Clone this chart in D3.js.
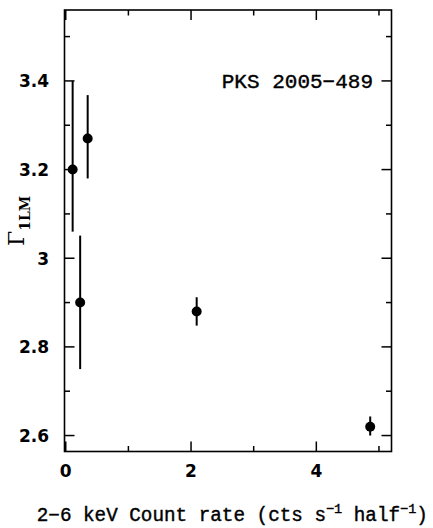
<!DOCTYPE html>
<html>
<head>
<meta charset="utf-8">
<script src="https://cdn.jsdelivr.net/npm/d3@7"></script>
<style>
  html, body { margin: 0; padding: 0; background: #fff; }
  svg { display: block; }
</style>
</head>
<body>
<script>
// ---- data ----
const countRate = [0.11, 0.35, 0.23, 2.09, 4.86];
const gamma     = [3.20, 3.27, 2.90, 2.88, 2.62];
const gammaLow  = [3.06, 3.18, 2.75, 2.848, 2.600];
const gammaHigh = [3.40, 3.368, 3.051, 2.912, 2.643];
const xMajorTicks = [0, 2, 4];
const xMinorTicks = [1, 3, 5];
const yMajorTicks = [2.6, 2.8, 3.0, 3.2, 3.4];
const yMinorTicks = [2.7, 2.9, 3.1, 3.3, 3.5];
const yTickLabels = ["2.6", "2.8", "3", "3.2", "3.4"];
const sourceName = "PKS 2005\u2212489";

(function () {
const W = 433, H = 528;
const pL = 64.5, pR = 391.5, pT = 10, pB = 451.5;

const x = d3.scaleLinear().domain([-0.02, 5.2]).range([pL, pR]);
const y = d3.scaleLinear().domain([2.564, 3.56]).range([pB, pT]);

const svg = d3.select("body").append("svg").attr("width", W).attr("height", H);

const tickFont = "'DejaVu Sans', sans-serif";
const monoFont = "'Liberation Mono', 'Courier New', monospace";

// frame
svg.append("rect")
  .attr("x", pL).attr("y", pT)
  .attr("width", pR - pL).attr("height", pB - pT)
  .attr("fill", "none").attr("stroke", "#000").attr("stroke-width", 1.6);

const majLen = 10, minLen = 5.5;
const tg = svg.append("g").attr("stroke", "#000").attr("stroke-width", 1.5);

function xTicks(vals, len) {
  vals.forEach(v => {
    tg.append("line").attr("x1", x(v)).attr("x2", x(v)).attr("y1", pB).attr("y2", pB - len);
    tg.append("line").attr("x1", x(v)).attr("x2", x(v)).attr("y1", pT).attr("y2", pT + len);
  });
}
function yTicks(vals, len) {
  vals.forEach(v => {
    tg.append("line").attr("x1", pL).attr("x2", pL + len).attr("y1", y(v)).attr("y2", y(v));
    tg.append("line").attr("x1", pR).attr("x2", pR - len).attr("y1", y(v)).attr("y2", y(v));
  });
}
xTicks(xMajorTicks, majLen); xTicks(xMinorTicks, minLen);
yTicks(yMajorTicks, majLen); yTicks(yMinorTicks, minLen);

// tick labels
svg.append("g").selectAll("text").data(xMajorTicks).join("text")
  .attr("x", d => x(d)).attr("y", 477)
  .attr("text-anchor", "middle")
  .attr("font-family", tickFont).attr("font-weight", "bold").attr("font-size", 17)
  .text(d => d);

svg.append("g").selectAll("text").data(yMajorTicks).join("text")
  .attr("x", 49).attr("y", d => y(d) + 6.5)
  .attr("text-anchor", "end")
  .attr("font-family", tickFont).attr("font-weight", "bold").attr("font-size", 17)
  .text((d, i) => yTickLabels[i]);

// error bars
const idx = d3.range(countRate.length);
svg.append("g").selectAll("line").data(idx).join("line")
  .attr("x1", i => x(countRate[i])).attr("x2", i => x(countRate[i]))
  .attr("y1", i => y(gammaLow[i])).attr("y2", i => y(gammaHigh[i]))
  .attr("stroke", "#000").attr("stroke-width", 2);

// points
svg.append("g").selectAll("circle").data(idx).join("circle")
  .attr("cx", i => x(countRate[i])).attr("cy", i => y(gamma[i]))
  .attr("r", 5).attr("fill", "#000");

// source label
svg.append("text")
  .attr("x", 373).attr("y", 88)
  .attr("text-anchor", "end")
  .attr("font-family", monoFont).attr("font-size", 21)
  .attr("stroke", "#000").attr("stroke-width", 0.4)
  .text(sourceName);

// x label
const xl = svg.append("text")
  .attr("x", 232.3).attr("y", 521)
  .attr("text-anchor", "middle")
  .attr("font-family", monoFont).attr("font-size", 19.3)
  .attr("stroke", "#000").attr("stroke-width", 0.4);
xl.append("tspan").text("2\u22126 keV Count rate (cts s");
xl.append("tspan").attr("dy", -8).attr("font-size", 13.5).text("\u22121");
xl.append("tspan").attr("dy", 8).text(" half");
xl.append("tspan").attr("dy", -8).attr("font-size", 13.5).text("\u22121");
xl.append("tspan").attr("dy", 8).text(")");

// y label: Gamma_1LM rotated
const yl = svg.append("text")
  .attr("transform", "translate(24,246) rotate(-90)")
  .attr("text-anchor", "start")
  .attr("font-family", "'DejaVu Serif', serif").attr("font-size", 22);
yl.append("tspan").text("\u0393");
yl.append("tspan").attr("dy", 6).attr("font-size", 14)
  .attr("font-weight", "bold").text("1LM");
})();
</script>
</body>
</html>
